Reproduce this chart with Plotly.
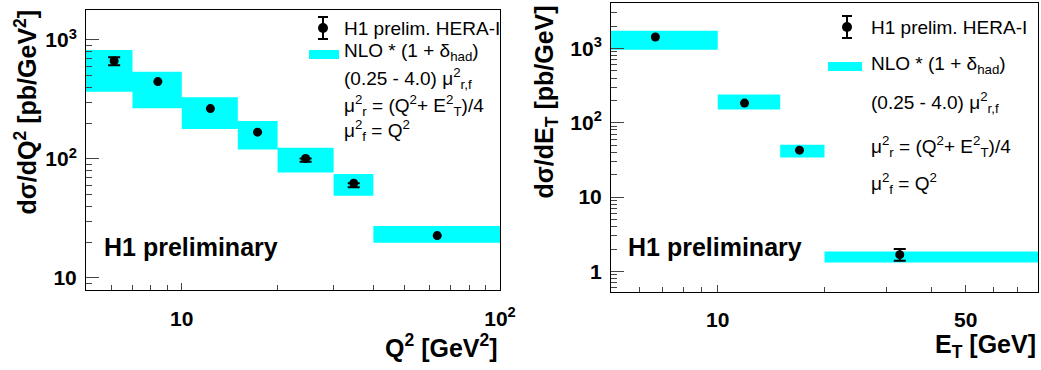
import plotly.graph_objects as go

W, H = 1041, 370

# ---------------- data: left panel (Q^2) ----------------
q2_lo = [5, 7, 10, 15, 20, 30, 40]
q2_hi = [7, 10, 15, 20, 30, 40, 100]
q2_nlo_lo = [368, 267, 179, 120, 77, 49.2, 19.8]
q2_nlo_hi = [824, 542, 330, 209, 124, 74.8, 27.4]
q2_x = [6.13, 8.41, 12.3, 17.3, 24.5, 34.7, 63.5]
q2_y = [667, 447, 265, 168, 101, 62.5, 22.7]
q2_err_up = [49, None, None, None, 0, 0, None]
q2_err_dn = [54, None, None, None, 6, 4.7, None]

# ---------------- data: right panel (E_T) ----------------
et_lo = [5, 10, 15, 20]
et_hi = [10, 15, 20, 80]
et_nlo_lo = [961, 151, 34.1, 1.32]
et_nlo_hi = [1730, 240, 50.6, 1.86]
et_x = [6.67, 11.9, 17.0, 32.6]
et_y = [1423, 184, 42.8, 1.68]
et_err_up = [None, None, None, 0.32]
et_err_dn = [None, None, None, 0.29]

# tick labels
q2_ticks = [10, 100]
q2_ticktext = ["10", "10<sup>2</sup>"]
q2_yticks = [10, 100, 1000]
q2_yticktext = ["10", "10<sup>2</sup>", "10<sup>3</sup>"]
et_ticks = [10, 50]
et_ticktext = ["10", "50"]
et_yticks = [1, 10, 100, 1000]
et_yticktext = ["1", "10", "10<sup>2</sup>", "10<sup>3</sup>"]

CYAN = "#00FFFF"
FONT = "Liberation Sans, Arial, Helvetica, sans-serif"


def px(x):
    return x / W


def py(y):
    return 1 - y / H


def bold(lst):
    return [f"<b>{s}</b>" for s in lst]


fig = go.Figure()


def add_panel(xa, ya, lo, hi, blo, bhi, xs, ys, eu, ed):
    bx, by = [], []
    for a, b, c, d in zip(lo, hi, blo, bhi):
        bx += [a, b, b, a, a, None]
        by += [c, c, d, d, c, None]
    fig.add_trace(go.Scatter(x=bx, y=by, mode="lines", fill="toself",
                             fillcolor=CYAN, line=dict(width=0, color=CYAN),
                             xaxis=xa, yaxis=ya, showlegend=False, hoverinfo="skip"))
    idx0 = [i for i in range(len(xs)) if eu[i] is None]
    idx1 = [i for i in range(len(xs)) if eu[i] is not None]
    if idx0:
        fig.add_trace(go.Scatter(x=[xs[i] for i in idx0], y=[ys[i] for i in idx0],
                                 mode="markers", marker=dict(color="black", size=9),
                                 xaxis=xa, yaxis=ya, showlegend=False))
    if idx1:
        fig.add_trace(go.Scatter(x=[xs[i] for i in idx1], y=[ys[i] for i in idx1],
                                 mode="markers", marker=dict(color="black", size=9),
                                 error_y=dict(type="data", symmetric=False,
                                              array=[eu[i] for i in idx1],
                                              arrayminus=[ed[i] for i in idx1],
                                              color="black", thickness=2, width=6),
                                 xaxis=xa, yaxis=ya, showlegend=False))


add_panel("x", "y", q2_lo, q2_hi, q2_nlo_lo, q2_nlo_hi, q2_x, q2_y, q2_err_up, q2_err_dn)
add_panel("x2", "y2", et_lo, et_hi, et_nlo_lo, et_nlo_hi, et_x, et_y, et_err_up, et_err_dn)

tickfont = dict(family=FONT, size=21, color="black")
common = dict(type="log", showgrid=False, zeroline=False, showline=True, linecolor="black",
              linewidth=1, mirror=True, ticks="inside", tickcolor="#444", tickfont=tickfont,
              automargin=False)

fig.update_layout(
    width=W, height=H, margin=dict(l=0, r=0, t=0, b=0, autoexpand=False),
    paper_bgcolor="white", plot_bgcolor="white", showlegend=False,
    xaxis=dict(common, domain=[px(86), px(500)], range=[0.699, 2.0], anchor="y",
               tickvals=q2_ticks, ticktext=bold(q2_ticktext), ticklen=7,
               ticklabelstandoff=10,
               minor=dict(tickvals=[6, 7, 8, 9, 20, 30, 40, 50, 60, 70, 80, 90],
                          ticks="inside", ticklen=5, tickcolor="#444")),
    yaxis=dict(common, domain=[py(290), py(10)], range=[0.899, 3.252], anchor="x",
               tickvals=q2_yticks, ticktext=bold(q2_yticktext),
               ticklen=13, ticklabelstandoff=4,
               minor=dict(tickvals=[8, 9, 20, 30, 40, 50, 60, 70, 80, 90,
                                    200, 300, 400, 500, 600, 700, 800, 900],
                          ticks="inside", ticklen=6, tickcolor="#444")),
    xaxis2=dict(common, domain=[px(611), px(1038)], range=[0.699, 1.903], anchor="y2",
                tickvals=et_ticks, ticktext=bold(et_ticktext), ticklen=7, ticklabelstandoff=9,
                minor=dict(tickvals=[6, 7, 8, 9, 20, 30, 40, 60, 70, 80],
                           ticks="inside", ticklen=5, tickcolor="#444")),
    yaxis2=dict(common, domain=[py(292), py(3)], range=[-0.277, 3.611], anchor="x2",
                tickvals=et_yticks, ticktext=bold(et_yticktext),
                ticklen=13, ticklabelstandoff=4,
                minor=dict(tickvals=[0.6, 0.7, 0.8, 0.9, 2, 3, 4, 5, 6, 7, 8, 9,
                                     20, 30, 40, 50, 60, 70, 80, 90,
                                     200, 300, 400, 500, 600, 700, 800, 900,
                                     2000, 3000, 4000],
                           ticks="inside", ticklen=6, tickcolor="#444")),
)

ann = []


def text(x, y, s, size=19, isbold=False, xanchor="left", yanchor="middle", angle=0):
    ann.append(dict(x=px(x), y=py(y), xref="paper", yref="paper",
                    text=(f"<b>{s}</b>" if isbold else s),
                    showarrow=False, xanchor=xanchor, yanchor=yanchor, textangle=angle,
                    font=dict(family=FONT, size=size, color="black")))


# axis titles
text(25, 8, "dσ/dQ<sup>2</sup> [pb/GeV<sup>2</sup>]", size=25, isbold=True, xanchor="center", yanchor="top", angle=-90)
text(500, 346, "Q<sup>2</sup> [GeV<sup>2</sup>]", size=25, isbold=True, xanchor="right")
text(545, 4, "dσ/dE<sub>T</sub> [pb/GeV]", size=25, isbold=True, xanchor="center", yanchor="top", angle=-90)
text(1038, 346, "E<sub>T</sub> [GeV]", size=25, isbold=True, xanchor="right")

# H1 preliminary
text(102, 247, "H1 preliminary", size=25, isbold=True)
text(626, 247, "H1 preliminary", size=25, isbold=True)

# legends
leg_left = dict(mx=323, my=28, tx=342, rows=[28, 52, 78, 106, 130], box=(309, 339, 50, 59))
leg_right = dict(mx=847, my=27, tx=869, rows=[27, 65, 102, 147, 183], box=(828, 862, 62, 71))
lines = ["H1 prelim. HERA-I",
         "NLO * (1 + δ<sub>had</sub>)",
         "(0.25 - 4.0) μ<sup>2</sup><sub>r,f</sub>",
         "μ<sup>2</sup><sub>r</sub> = (Q<sup>2</sup>+ E<sup>2</sup><sub>T</sub>)/4",
         "μ<sup>2</sup><sub>f</sub> = Q<sup>2</sup>"]

shapes = []
for L in (leg_left, leg_right):
    for s, r in zip(lines, L["rows"]):
        text(L["tx"], r, s, size=19)
    x0, x1, y0, y1 = L["box"]
    shapes.append(dict(type="rect", xref="paper", yref="paper", x0=px(x0), x1=px(x1),
                       y0=py(y1), y1=py(y0), fillcolor=CYAN, line=dict(width=0)))
    mx, my = L["mx"], L["my"]
    shapes.append(dict(type="line", xref="paper", yref="paper", x0=px(mx), x1=px(mx),
                       y0=py(my - 11), y1=py(my + 11), line=dict(color="black", width=2)))
    for yy in (my - 11, my + 11):
        shapes.append(dict(type="line", xref="paper", yref="paper", x0=px(mx - 5), x1=px(mx + 5),
                           y0=py(yy), y1=py(yy), line=dict(color="black", width=2)))
    shapes.append(dict(type="circle", xref="paper", yref="paper", x0=px(mx - 5), x1=px(mx + 5),
                       y0=py(my + 5), y1=py(my - 5), fillcolor="black", line=dict(width=0)))

fig.update_layout(annotations=ann, shapes=shapes)
fig.write_html("out.html")
